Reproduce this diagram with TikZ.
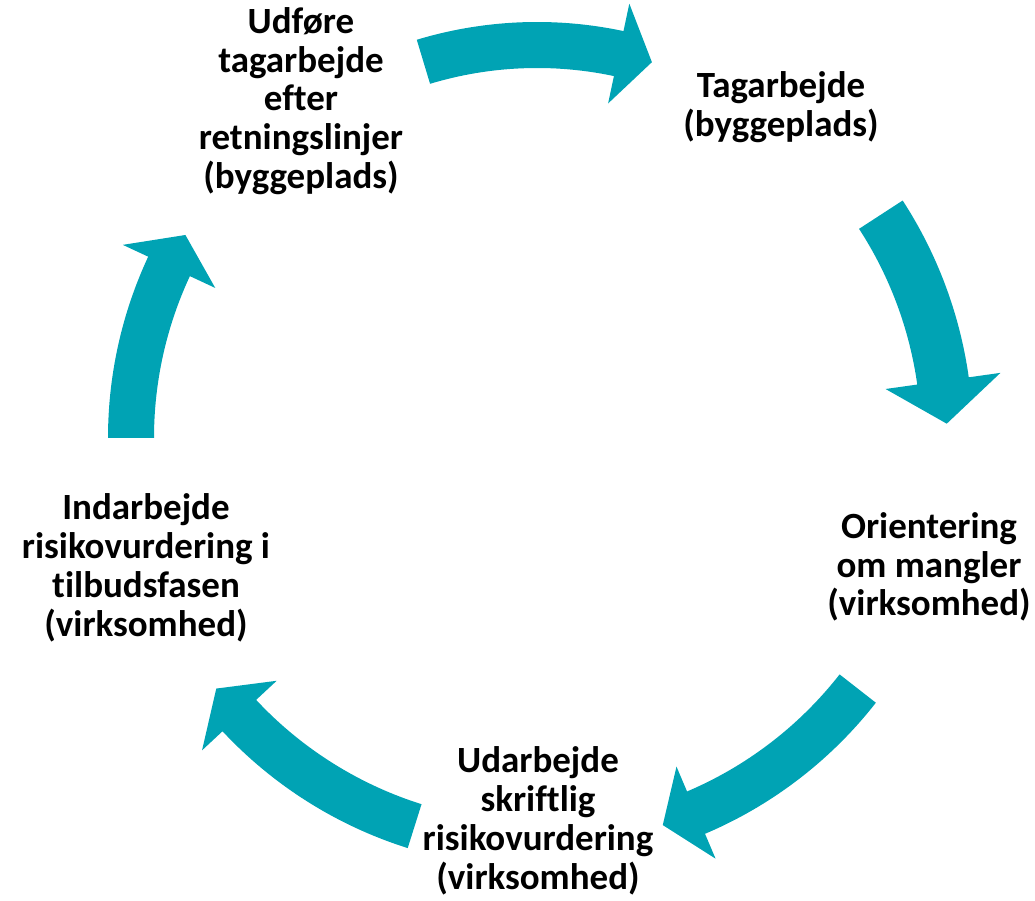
\documentclass[tikz,border=0pt]{standalone}
\usepackage{fontspec}
\setmainfont{Carlito}[Ligatures=NoCommon]
\definecolor{cycleteal}{RGB}{0,163,180}
\tikzset{steptext/.style={align=center,font=\fontsize{26.3}{27.6}\selectfont\bfseries}}
\begin{document}
\begin{tikzpicture}[x=0.025cm,y=0.025cm]
\useasboundingbox (0,0) rectangle (1035,901);
\coordinate (c) at (537,463);
% start angle / head base / tip / radius / band half width / head half width
\foreach \a/\b/\t/\r/\w/\h in {106.8/78/73/393/23/51, 33/8/2/410/26/58,
	-38/-67/-72/407/23/50, -107.5/-137/-142/407/23/51, 180/155/150/406/23/51}{
\pgfmathsetmacro\ro{\r+\w}
\pgfmathsetmacro\ri{\r-\w}
\pgfmathsetmacro\ho{\r+\h}
\pgfmathsetmacro\hi{\r-\h}
\fill[cycleteal,shift={(c)}] (\a:\ro) arc[start angle=\a,end angle=\b,radius=\ro]
	-- (\b:\ho) -- (\t:\r) -- (\b:\hi) -- (\b:\ri)
	arc[start angle=\b,end angle=\a,radius=\ri] -- cycle;
}
\node[steptext] (udfoere) at (301,800) {Udføre\\tagarbejde\\efter\\retningslinjer\\(byggeplads)};
\node[steptext] (tagarbejde) at (781,794) {Tagarbejde\\(byggeplads)};
\node[steptext] (orientering) at (929,334) {Orientering\\om mangler\\(virksomhed)};
\node[steptext] (udarbejde) at (538,80) {Udarbejde\\skriftlig\\risikovurdering\\(virksomhed)};
\node[steptext] (indarbejde) at (146,333) {Indarbejde\\risikovurdering i\\tilbudsfasen\\(virksomhed)};
\end{tikzpicture}
\end{document}
